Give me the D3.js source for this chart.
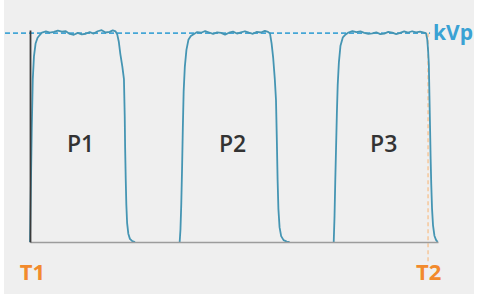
<!DOCTYPE html>
<html>
<head>
<meta charset="utf-8">
<script src="https://cdn.jsdelivr.net/npm/d3@7"></script>
<style>
  html, body { margin: 0; padding: 0; background: #fff; }
  svg { display: block; font-family: "Open Sans", sans-serif; }
</style>
</head>
<body>
<svg id="chart" width="478" height="296"></svg>
<script>
// pulse waveforms: [time, kV as % of kVp], T1 = 0, T2 = 100
const pulse1 = [
    [0, 0], [0.1, 12], [0.25, 30], [0.45, 55], [0.7, 78], [1.0, 89], [1.4, 95], [1.9, 97.8], [2.5, 99.2],
    [3, 100.3], [4, 100.8], [5, 100.2], [6, 100.6], [7, 101.2], [8, 100.7], [9, 100.9], [10, 99.6],
    [11, 99.2], [12, 100.1], [13, 99.4], [14, 99.7], [15, 100.5], [16, 99.8], [17, 100.9], [18, 101.4],
    [19, 100.3], [20, 100.6], [20.8, 101.3], [21.5, 100.8],
    [21.9, 99.5], [22.3, 96], [22.7, 90], [23.2, 84], [23.6, 78], [23.8, 60], [23.9, 45], [24.05, 30],
    [24.2, 18], [24.4, 9], [24.7, 4], [25.1, 1.5], [25.7, 0.4], [26.4, 0]
];
const pulse2 = [
    [37.6, 0], [37.8, 6], [38.0, 18], [38.2, 35], [38.4, 55], [38.6, 72], [38.9, 84], [39.3, 92],
    [39.8, 96.8], [40.4, 98.6], [41.2, 99.6],
    [42, 100.5], [43, 100.2], [44, 101], [45, 100.3], [46, 99.6], [47, 100.4], [48, 100.1], [49, 99.3],
    [50, 100.2], [51, 100.7], [52, 99.8], [53, 100.4], [54, 100.9], [55, 100.2], [56, 99.7], [57, 100.6],
    [58, 100.3], [59, 101.1], [59.8, 100.6],
    [60.3, 99.8], [60.7, 95], [61.1, 88], [61.5, 78], [61.8, 68], [62.0, 50], [62.2, 30], [62.4, 16],
    [62.7, 7], [63.1, 2.8], [63.7, 0.9], [64.5, 0.2], [65.2, 0]
];
const pulse3 = [
    [76.3, 0], [76.5, 12], [76.7, 30], [76.9, 46], [77.1, 62], [77.3, 75], [77.6, 86], [78.0, 94],
    [78.6, 98], [79.3, 99.4],
    [80, 100.3], [81, 101], [82, 100.5], [83, 100.8], [84, 100.1], [85, 99.6], [86, 99.9], [87, 100.4],
    [88, 99.5], [89, 99.8], [90, 100.6], [91, 100.2], [92, 99.5], [93, 100.1], [94, 100.8], [95, 100.3],
    [96, 100.9], [97, 100.4], [98, 100.7], [99, 100.2], [99.5, 99.9],
    [99.8, 97], [100, 92], [100.2, 85], [100.35, 70], [100.5, 55], [100.65, 40], [100.8, 28], [101.0, 16],
    [101.25, 8], [101.6, 3], [102.0, 1], [102.4, 0]
];
const pulses = [pulse1, pulse2, pulse3];
const pulseLabels = ['P1', 'P2', 'P3'];
const markerTimes = [0, 100];
const markerLabels = ['T1', 'T2'];
const kvpLevel = 100;
const kvpLabel = 'kVp';

const svg = d3.select('#chart');
const width = 478, height = 296;

// panel background
svg.append('rect')
    .attr('x', 4).attr('y', 0)
    .attr('width', width - 8).attr('height', height - 2)
    .attr('fill', '#efefef');

const x = d3.scaleLinear().domain([0, 102.5]).range([30, 438]);
const y = d3.scaleLinear().domain([0, 101.5]).range([242, 30]);

// kVp reference line
svg.append('line')
    .attr('x1', 5).attr('x2', x(100) + 2)
    .attr('y1', y(kvpLevel)).attr('y2', y(kvpLevel))
    .attr('stroke', '#45a6d6')
    .attr('stroke-width', 1.8)
    .attr('stroke-dasharray', '5,3');

svg.append('text')
    .attr('x', x(100) + 5)
    .attr('y', y(kvpLevel) + 1)
    .attr('dominant-baseline', 'middle')
    .style('font-size', '21px')
    .style('font-weight', 700)
    .style('fill', '#3aa2d4')
    .text(kvpLabel);

// T2 marker line
svg.append('line')
    .attr('x1', x(markerTimes[1])).attr('x2', x(markerTimes[1]))
    .attr('y1', y(kvpLevel)).attr('y2', y(0) + 20)
    .attr('stroke', '#f6c495')
    .attr('stroke-width', 1.4)
    .attr('stroke-dasharray', '4,3');

// waveform
const line = d3.line()
    .x(d => x(d[0]))
    .y(d => y(d[1]));

svg.selectAll('.pulse')
    .data(pulses)
    .enter()
    .append('path')
    .attr('class', 'pulse')
    .attr('d', line)
    .attr('fill', 'none')
    .attr('stroke', '#4595b3')
    .attr('stroke-width', 1.8)
    .attr('stroke-linejoin', 'round');

// axes
const xAxis = svg.append('g')
    .attr('transform', `translate(0, ${y(0)})`)
    .call(d3.axisBottom(x)
        .tickValues(markerTimes)
        .tickFormat((d, i) => markerLabels[i])
        .tickSize(0)
        .tickSizeOuter(0)
        .tickPadding(22));
xAxis.select('.domain')
    .attr('stroke', '#9c9c9c')
    .attr('stroke-width', 1.6);
xAxis.selectAll('text')
    .style('font-family', '"Open Sans", sans-serif')
    .style('font-size', '22px')
    .style('font-weight', 700)
    .style('fill', '#f28a2c');
xAxis.select('.tick text').attr('dx', 2);

const yAxis = svg.append('g')
    .attr('transform', `translate(${x(0)}, 0)`)
    .call(d3.axisLeft(y).tickValues([]).tickSizeOuter(0));
yAxis.select('.domain')
    .attr('stroke', '#3a3a3a')
    .attr('stroke-width', 1.8);

// pulse labels
svg.selectAll('.pulse-label')
    .data(pulses)
    .enter()
    .append('text')
    .attr('class', 'pulse-label')
    .attr('x', (d, i) => x((d[0][0] + d[d.length - 1][0]) / 2) - 2)
    .attr('y', y(46))
    .attr('text-anchor', 'middle')
    .attr('dominant-baseline', 'middle')
    .style('font-size', '23px')
    .style('font-weight', 600)
    .style('fill', '#333')
    .text((d, i) => pulseLabels[i]);
</script>
</body>
</html>
